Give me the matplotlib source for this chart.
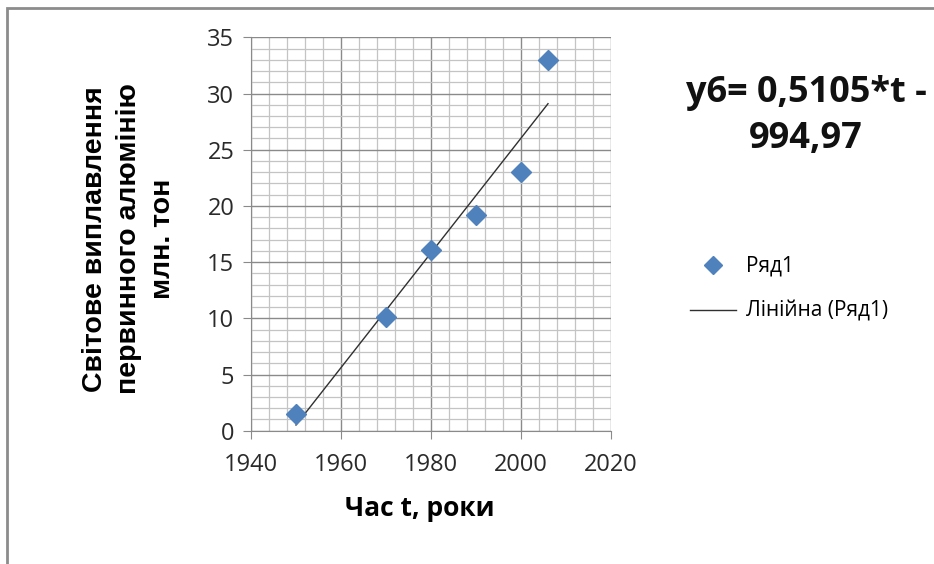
import numpy as np
import matplotlib
matplotlib.use("Agg")
import matplotlib.pyplot as plt
from matplotlib.patches import Rectangle
from matplotlib.lines import Line2D
from matplotlib.ticker import MultipleLocator

# world primary aluminium smelting, mln t
years = [1950, 1970, 1980, 1990, 2000, 2006]
output = [1.5, 10.1, 16.1, 19.2, 23.0, 33.0]

# linear trend y = a*t + b
a = 0.5105
b = -994.97

blue = "#4F81BD"
txt_font = ["Open Sans", "DejaVu Sans"]

fig = plt.figure(figsize=(9.34, 5.64), dpi=100)
ax = fig.add_axes([251/934, 1-430.7/564, 360/934, 393.4/564])

# grid: major lines darker, minor every 4 years / 1 unit
ax.xaxis.set_major_locator(MultipleLocator(20))
ax.xaxis.set_minor_locator(MultipleLocator(4))
ax.yaxis.set_major_locator(MultipleLocator(5))
ax.yaxis.set_minor_locator(MultipleLocator(1))
ax.grid(which="minor", color="#c4c4c4", lw=0.9)
ax.grid(which="major", color="#8a8a8a", lw=1.0)
ax.set_axisbelow(True)

t = np.array([years[0], years[-1]])
ax.plot(t, a*t + b, color="#303030", lw=1.0, label="Лінійна (Ряд1)", zorder=3)
ax.plot(years, output, ls="none", marker="D", ms=10, color=blue,
        mec=blue, label="Ряд1", zorder=4)

ax.set_xlim(1940, 2020)
ax.set_ylim(0, 35)
for s in ax.spines.values():
    s.set_color("#8a8a8a")
ax.spines["top"].set_visible(False)
ax.spines["right"].set_visible(False)
ax.tick_params(which="major", direction="out", length=6, color="#8a8a8a",
               labelsize=17, labelcolor="#2a2a2a")
ax.tick_params(axis="x", which="major", pad=10)
ax.tick_params(axis="y", which="major", pad=6)
ax.tick_params(which="minor", length=0)
for lab in ax.get_xticklabels() + ax.get_yticklabels():
    lab.set_family(txt_font)

fig.text(129/934, 1-239/564,
         "Світове виплавлення\nпервинного алюмінію\nмлн. тон",
         rotation=90, ha="center", va="center", multialignment="center",
         family=["Liberation Sans", "DejaVu Sans"], fontweight="bold",
         fontsize=20.5, linespacing=1.4)
fig.text(420/934, 1-508/564, "Час t, роки", ha="center", va="center",
         family=txt_font, fontweight="bold", fontsize=19)

fig.text(806/934, 1-116/564, "у6= 0,5105*t -\n994,97", ha="center",
         va="center", multialignment="center", family=txt_font,
         fontweight="bold", fontsize=26, linespacing=1.4, color="#111111")

handles = [Line2D([], [], ls="none", marker="D", ms=9, color=blue),
           Line2D([], [], color="#303030", lw=1.0)]
fig.legend(handles, ["Ряд1", "Лінійна (Ряд1)"], loc="upper left",
           bbox_to_anchor=(690/934, 1-256/564), frameon=False,
           prop={"family": txt_font, "size": 15}, handlelength=2.2,
           handletextpad=0.5, labelspacing=1.15, borderaxespad=0,
           borderpad=0)

# outer chart frame, cut by the image edge on the right and bottom
fig.add_artist(Rectangle((7/934, -0.1), 1.2, 1.1-8/564, transform=fig.transFigure,
                         fill=False, ec="#8c8c8c", lw=2, clip_on=False))

fig.savefig("out.png", dpi=100, facecolor="white")
